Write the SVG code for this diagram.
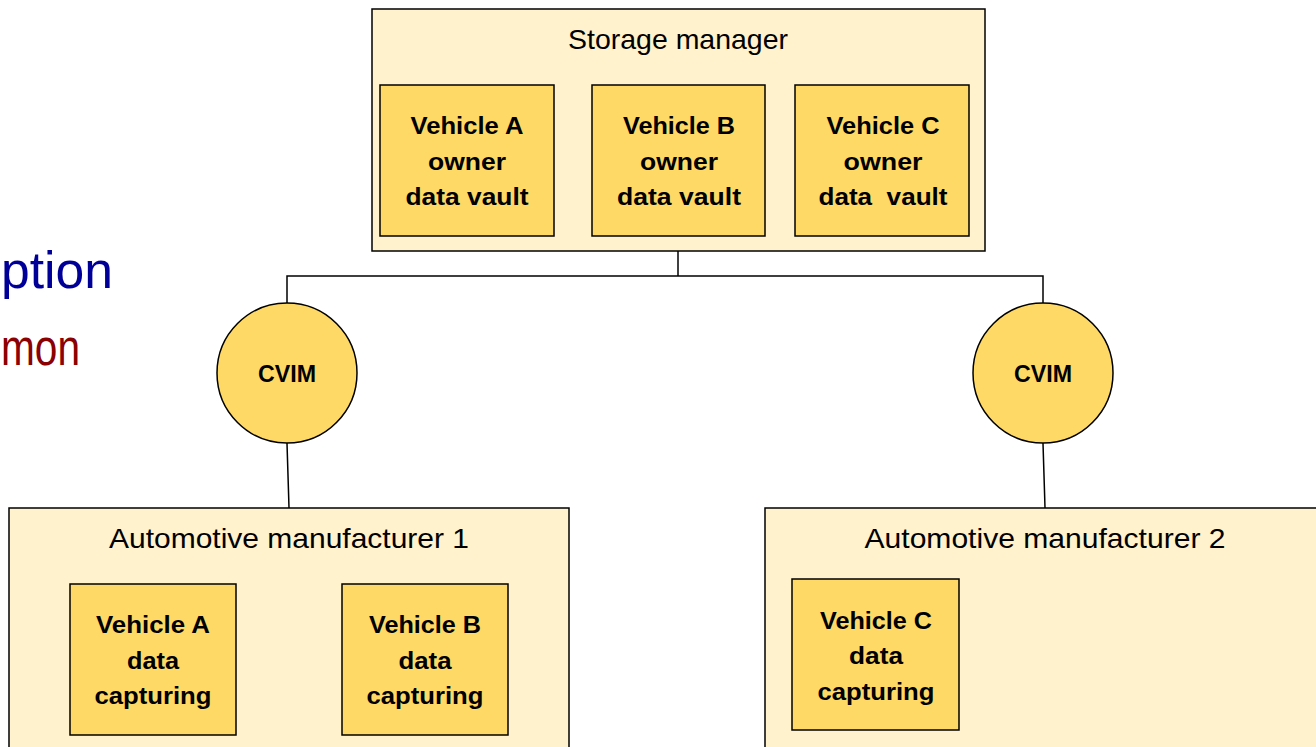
<svg xmlns="http://www.w3.org/2000/svg" width="1316" height="747" viewBox="0 0 1316 747">
  <style>
    .outer { fill: #FFF2CC; stroke: #000; stroke-width: 1.5; }
    .inner { fill: #FFD966; stroke: #000; stroke-width: 1.5; }
    .title { font-family: "Liberation Sans", Arial, sans-serif; font-size: 28px; fill: #000; text-anchor: middle; }
    .label { font-family: "Liberation Sans", Arial, sans-serif; font-size: 24px; font-weight: bold; fill: #000; text-anchor: middle; }
    .cvim { font-family: "Liberation Sans", Arial, sans-serif; font-size: 23px; font-weight: bold; fill: #000; text-anchor: middle; }
    .side { font-family: "Liberation Sans", Arial, sans-serif; font-size: 52px; }
    .conn { fill: none; stroke: #000; stroke-width: 1.5; }
  </style>

  <rect width="1316" height="747" fill="#FFFFFF"/>

  <!-- partially visible slide text on the left -->
  <text class="side" x="1" y="288" fill="#000099" textLength="112" lengthAdjust="spacingAndGlyphs">ption</text>
  <text class="side" x="1" y="365" fill="#8B0000" textLength="79" lengthAdjust="spacingAndGlyphs">mon</text>

  <!-- connectors -->
  <g id="connectors">
    <polyline class="conn" points="678,251 678,276"/>
    <polyline class="conn" points="287,303 287,276 1043,276 1043,303"/>
    <line class="conn" x1="287" y1="443" x2="289" y2="508"/>
    <line class="conn" x1="1043" y1="443" x2="1045" y2="508"/>
  </g>

  <!-- storage manager -->
  <g id="storage-manager">
    <rect class="outer" x="372" y="9" width="613" height="242"/>
    <text class="title" x="678" y="49" textLength="220" lengthAdjust="spacingAndGlyphs">Storage manager</text>
  </g>
  <g id="vault-a">
    <rect class="inner" x="380" y="85" width="174" height="151"/>
    <text class="label" x="467" y="134" textLength="113" lengthAdjust="spacingAndGlyphs">Vehicle A</text>
    <text class="label" x="467" y="170" textLength="78" lengthAdjust="spacingAndGlyphs">owner</text>
    <text class="label" x="467" y="205" textLength="123" lengthAdjust="spacingAndGlyphs">data vault</text>
  </g>
  <g id="vault-b">
    <rect class="inner" x="592" y="85" width="173" height="151"/>
    <text class="label" x="679" y="134" textLength="112" lengthAdjust="spacingAndGlyphs">Vehicle B</text>
    <text class="label" x="679" y="170" textLength="78" lengthAdjust="spacingAndGlyphs">owner</text>
    <text class="label" x="679" y="205" textLength="124" lengthAdjust="spacingAndGlyphs">data vault</text>
  </g>
  <g id="vault-c">
    <rect class="inner" x="795" y="85" width="174" height="151"/>
    <text class="label" x="883" y="134" textLength="113" lengthAdjust="spacingAndGlyphs">Vehicle C</text>
    <text class="label" x="883" y="170" textLength="79" lengthAdjust="spacingAndGlyphs">owner</text>
    <text class="label" x="883" y="205" textLength="129" lengthAdjust="spacingAndGlyphs" xml:space="preserve">data  vault</text>
  </g>

  <!-- CVIM nodes -->
  <g id="cvim-1">
    <circle class="inner" cx="287" cy="373" r="70"/>
    <text class="cvim" x="287" y="382" textLength="58" lengthAdjust="spacingAndGlyphs">CVIM</text>
  </g>
  <g id="cvim-2">
    <circle class="inner" cx="1043" cy="373" r="70"/>
    <text class="cvim" x="1043" y="382" textLength="58" lengthAdjust="spacingAndGlyphs">CVIM</text>
  </g>

  <!-- automotive manufacturer 1 -->
  <g id="manufacturer-1">
    <rect class="outer" x="9" y="508" width="560" height="260"/>
    <text class="title" x="289" y="548" textLength="360" lengthAdjust="spacingAndGlyphs">Automotive manufacturer 1</text>
  </g>
  <g id="capture-a">
    <rect class="inner" x="70" y="584" width="166" height="151"/>
    <text class="label" x="153" y="633" textLength="114" lengthAdjust="spacingAndGlyphs">Vehicle A</text>
    <text class="label" x="153" y="669" textLength="52" lengthAdjust="spacingAndGlyphs">data</text>
    <text class="label" x="153" y="704" textLength="117" lengthAdjust="spacingAndGlyphs">capturing</text>
  </g>
  <g id="capture-b">
    <rect class="inner" x="342" y="584" width="166" height="151"/>
    <text class="label" x="425" y="633" textLength="112" lengthAdjust="spacingAndGlyphs">Vehicle B</text>
    <text class="label" x="425" y="669" textLength="53" lengthAdjust="spacingAndGlyphs">data</text>
    <text class="label" x="425" y="704" textLength="117" lengthAdjust="spacingAndGlyphs">capturing</text>
  </g>

  <!-- automotive manufacturer 2 -->
  <g id="manufacturer-2">
    <rect class="outer" x="765" y="508" width="600" height="260"/>
    <text class="title" x="1045" y="548" textLength="361" lengthAdjust="spacingAndGlyphs">Automotive manufacturer 2</text>
  </g>
  <g id="capture-c">
    <rect class="inner" x="792" y="579" width="167" height="151"/>
    <text class="label" x="876" y="629" textLength="112" lengthAdjust="spacingAndGlyphs">Vehicle C</text>
    <text class="label" x="876" y="664" textLength="54" lengthAdjust="spacingAndGlyphs">data</text>
    <text class="label" x="876" y="700" textLength="117" lengthAdjust="spacingAndGlyphs">capturing</text>
  </g>
</svg>
